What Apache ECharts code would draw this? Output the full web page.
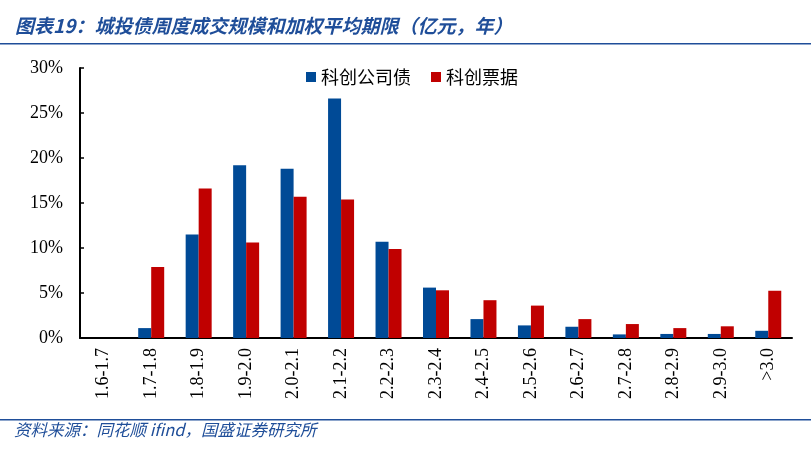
<!DOCTYPE html>
<html lang="zh">
<head>
<meta charset="UTF-8" />
<title>城投债周度成交规模和加权平均期限</title>
<script src="https://cdn.jsdelivr.net/npm/echarts@6/dist/echarts.min.js"></script>
<style>
  html, body { margin: 0; padding: 0; background: #fff; }
  #chart { width: 811px; height: 453px; }
</style>
</head>
<body>
<div id="chart"></div>
<script>
// 期限区间（年）
var categories = ['1.6-1.7', '1.7-1.8', '1.8-1.9', '1.9-2.0', '2.0-2.1', '2.1-2.2', '2.2-2.3',
                  '2.3-2.4', '2.4-2.5', '2.5-2.6', '2.6-2.7', '2.7-2.8', '2.8-2.9', '2.9-3.0', '>3.0'];
// 占比（%）
var kcBond = [0, 1.1, 11.5, 19.2, 18.8, 26.6, 10.7, 5.6, 2.1, 1.4, 1.25, 0.4, 0.45, 0.45, 0.8];
var kcBill = [0, 7.9, 16.6, 10.6, 15.7, 15.4, 9.9, 5.3, 4.2, 3.6, 2.1, 1.55, 1.1, 1.3, 5.25];
var seriesNames = ['科创公司债', '科创票据'];

var titleText = '图表19：城投债周度成交规模和加权平均期限（亿元，年）';
var sourceText = '资料来源：同花顺 ifind，国盛证券研究所';

var chart = echarts.init(document.getElementById('chart'));
var serif = '"Liberation Serif", "Times New Roman", serif';
var cjk = '"Noto Sans CJK SC", sans-serif';
var navy = '#1F4E99';

var option = {
  backgroundColor: '#fff',
  animation: false,
  title: {
    text: titleText,
    left: 10,
    top: 11,
    textStyle: { color: navy, fontSize: 19, fontWeight: 'bold', fontStyle: 'italic', fontFamily: cjk }
  },
  legend: {
    data: seriesNames,
    left: 301,
    top: 63,
    itemWidth: 10,
    itemHeight: 10,
    itemGap: 20,
    icon: 'rect',
    textStyle: { color: '#000', fontSize: 18, fontFamily: cjk }
  },
  grid: { left: 80, right: 19, top: 68, bottom: 115, containLabel: false },
  xAxis: {
    type: 'category',
    data: categories,
    axisLine: { lineStyle: { color: '#000', width: 2 } },
    axisTick: { show: false },
    axisLabel: {
      rotate: 90,
      margin: 10,
      interval: 0,
      color: '#000',
      fontSize: 18,
      fontFamily: serif
    }
  },
  yAxis: {
    type: 'value',
    min: 0,
    max: 30,
    interval: 5,
    splitLine: { show: false },
    axisLine: { show: true, lineStyle: { color: '#000', width: 2 } },
    axisTick: { show: true, inside: true, length: 4, lineStyle: { color: '#000', width: 1.5 } },
    axisLabel: { formatter: '{value}%', color: '#000', fontSize: 18, fontFamily: serif, margin: 17 }
  },
  series: [
    {
      name: seriesNames[0],
      type: 'bar',
      data: kcBond,
      barWidth: 13,
      barGap: '0%',
      itemStyle: { color: '#004A96' }
    },
    {
      name: seriesNames[1],
      type: 'bar',
      data: kcBill,
      barWidth: 13,
      barGap: '0%',
      itemStyle: { color: '#C00000' }
    }
  ],
  graphic: [
    { type: 'rect', left: 0, top: 43, shape: { width: 811, height: 1.5 }, style: { fill: navy } },
    { type: 'rect', left: 0, top: 419, shape: { width: 811, height: 1.5 }, style: { fill: navy } },
    {
      type: 'text', left: 14, top: 421,
      style: { text: sourceText, fill: navy, font: 'italic 16.5px "Noto Sans CJK SC", sans-serif' }
    }
  ]
};
chart.setOption(option);
</script>
</body>
</html>
